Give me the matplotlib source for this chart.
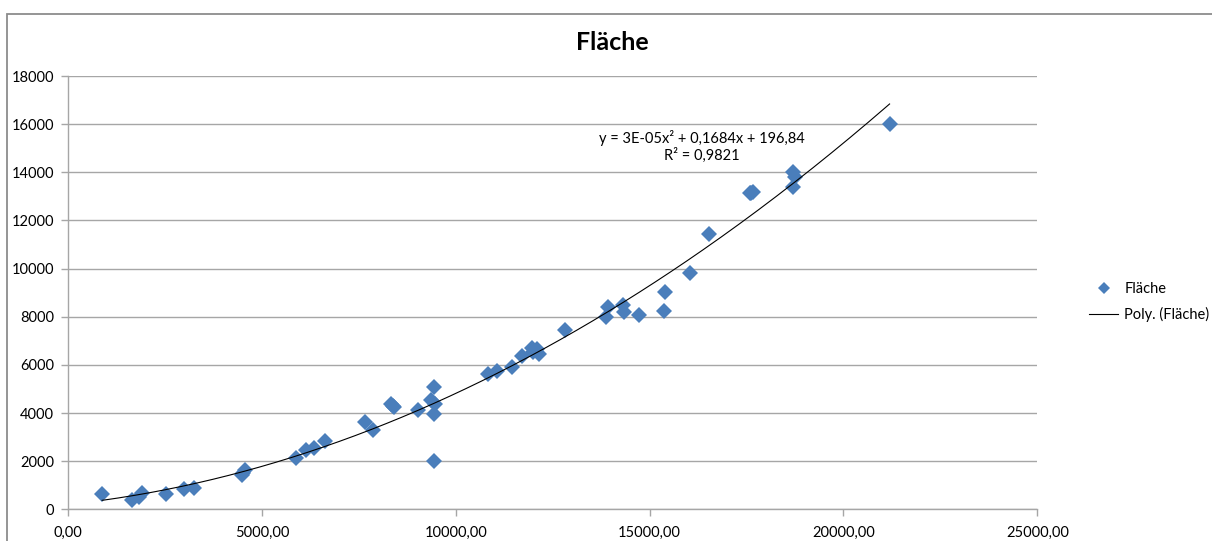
import numpy as np
import matplotlib
matplotlib.use("Agg")
import matplotlib.pyplot as plt
from matplotlib.patches import Rectangle
from matplotlib.lines import Line2D
from matplotlib.ticker import FuncFormatter

# Data
x_vals = [880, 1640, 1840, 1900, 2530, 3000, 3260, 4490, 4570, 4520,
          5890, 6150, 6340, 6640, 7650, 7870, 8340, 8400, 8370, 9030,
          9370, 9440, 9460, 9440, 9430, 10830, 11070, 11450, 11710, 11970,
          12100, 12140, 12000, 12810, 13880, 13940, 14310, 14330, 14740, 15370,
          15410, 16030, 16530, 17580, 17660, 17620, 18690, 18740, 18710, 21190]
y_vals = [650, 400, 510, 680, 620, 840, 870, 1440, 1650, 1500,
          2150, 2480, 2550, 2830, 3630, 3280, 4390, 4230, 4300, 4120,
          4560, 5060, 4390, 3950, 2000, 5600, 5750, 5910, 6360, 6720,
          6640, 6440, 6540, 7460, 7990, 8410, 8480, 8200, 8090, 8230,
          9030, 9820, 11420, 13120, 13190, 13150, 14020, 13810, 13370, 16000]
series_name = "Fläche"
trend_name = "Poly. (Fläche)"
equation_text = "y = 3E-05x² + 0,1684x + 196,84"
r2_text = "R² = 0,9821"
x_ticks = [0, 5000, 10000, 15000, 20000, 25000]
y_ticks = [0, 2000, 4000, 6000, 8000, 10000, 12000, 14000, 16000, 18000]

plt.rcParams['font.family'] = ['Lato', 'DejaVu Sans']

W, H = 1212, 541
fig = plt.figure(figsize=(W / 100, H / 100), dpi=100)
ax = fig.add_axes([68 / W, 1 - 509.3 / H, (1037.3 - 68) / W, (509.3 - 76) / H])

xs = np.array(x_vals, dtype=float)
ys = np.array(y_vals, dtype=float)
coef = np.polyfit(xs, ys, 2)
xx = np.linspace(xs.min(), xs.max(), 300)
ax.plot(xx, np.polyval(coef, xx), color='black', lw=0.8, zorder=3)
ax.plot(xs, ys, linestyle='none', marker='D', ms=8.5, color='#4A7EBB',
        markeredgewidth=0, zorder=2)

ax.set_xlim(0, 25000)
ax.set_ylim(0, 18000)
ax.set_xticks(x_ticks)
ax.set_yticks(y_ticks)
ax.xaxis.set_major_formatter(FuncFormatter(lambda v, p: f"{v:.2f}".replace('.', ',')))
ax.yaxis.set_major_formatter(FuncFormatter(lambda v, p: f"{int(v)}"))
ax.grid(axis='y', color='#A6A6A6', lw=1.0)
ax.set_axisbelow(True)
for s in ['top', 'right']:
    ax.spines[s].set_visible(False)
for s in ['left', 'bottom']:
    ax.spines[s].set_color('#A6A6A6')
    ax.spines[s].set_linewidth(1.0)
ax.tick_params(axis='both', colors='#A6A6A6', labelcolor='black', labelsize=10.5,
               length=5, width=1.0)
ax.tick_params(axis='x', pad=7)
ax.tick_params(axis='y', pad=5)

ax.text(702 / W, 1 - 138 / H, equation_text, transform=fig.transFigure,
        ha='center', va='center', fontsize=10.5)
ax.text(702 / W, 1 - 155 / H, r2_text, transform=fig.transFigure,
        ha='center', va='center', fontsize=10.5)

fig.text(612 / W, 1 - 43 / H, series_name, ha='center', va='center',
         fontsize=18, fontweight='bold')

fig.patches.append(Rectangle((6.5 / W, -0.1), 1.2, (H - 14) / H + 0.1,
                             transform=fig.transFigure, fill=False,
                             ec='#8C8C8C', lw=1.3))

handles = [Line2D([], [], linestyle='none', marker='D', ms=6, color='#4A7EBB',
                  markeredgewidth=0),
           Line2D([], [], color='black', lw=0.8)]
fig.legend(handles, [series_name, trend_name], loc='center left',
           bbox_to_anchor=(1076 / W, 1 - 302 / H), frameon=False, fontsize=10.5,
           handlelength=2.0, handletextpad=0.4, labelspacing=0.75)

fig.savefig('out.png', dpi=100)
